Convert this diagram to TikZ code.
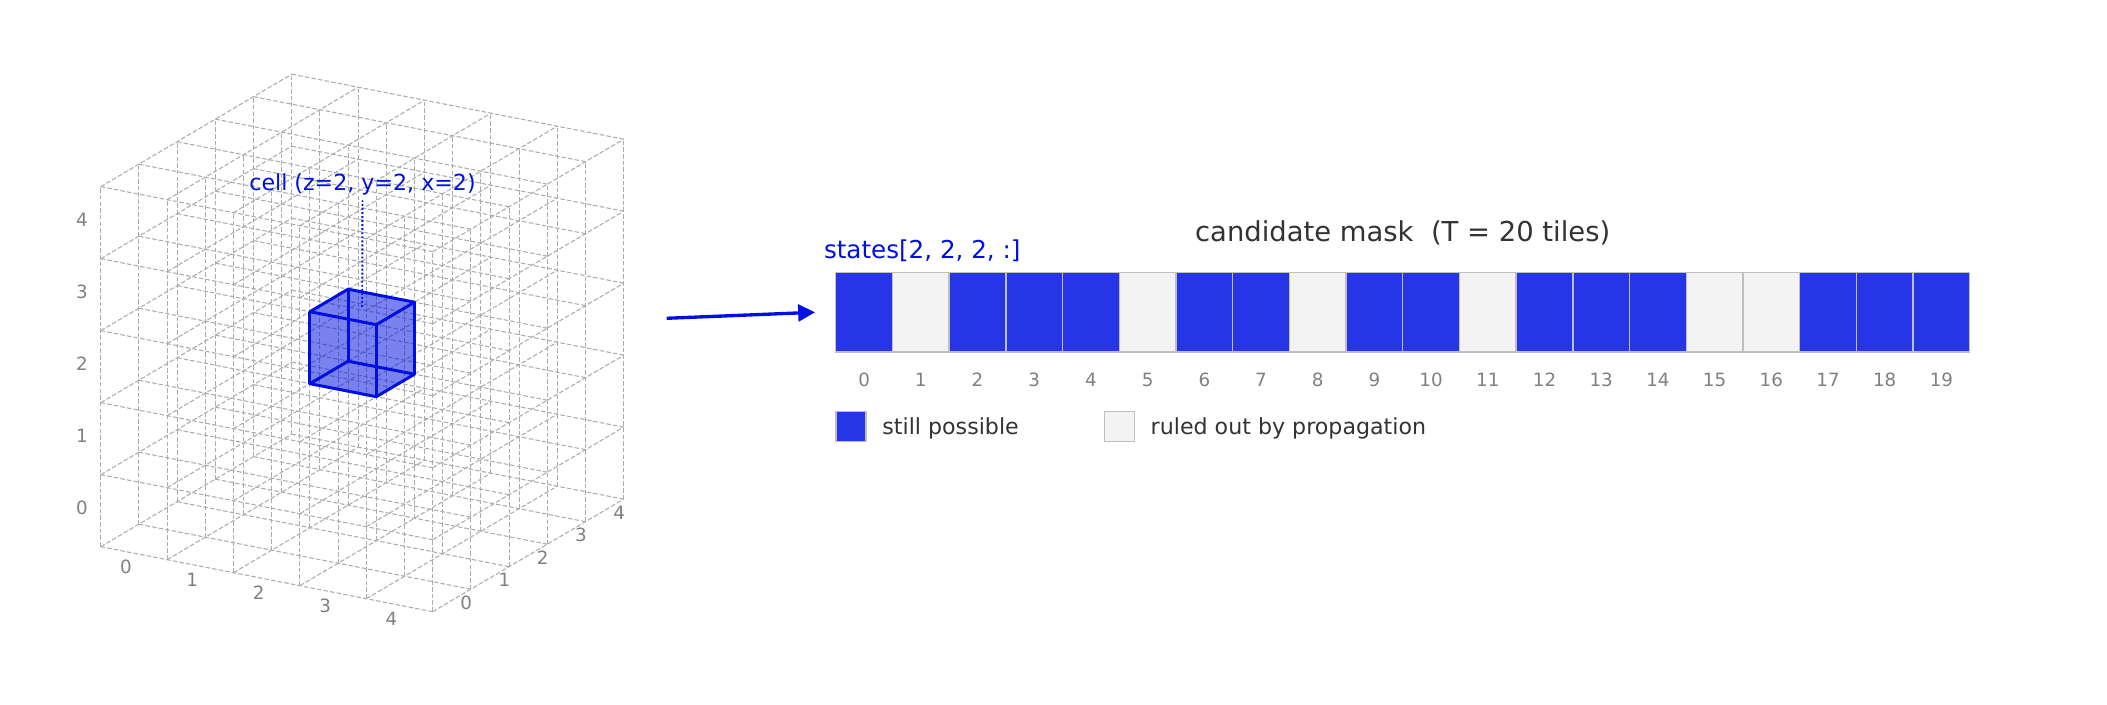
\documentclass[tikz,border=0pt]{standalone}
\usepackage{fontspec}
\setmainfont{DejaVu Sans}
\usetikzlibrary{arrows.meta}
\definecolor{maskBlue}{RGB}{0,16,224}
\definecolor{barBlue}{RGB}{38,54,230}
\definecolor{offGray}{RGB}{243,243,243}
\definecolor{edgeGray}{RGB}{191,191,191}
\definecolor{gridGray}{RGB}{172,172,172}
\definecolor{tickGray}{RGB}{128,128,128}
\definecolor{darkText}{RGB}{51,51,51}

\begin{document}
\begin{tikzpicture}
	\tikzstyle{gridStyle}=[draw=gridGray, line width=0.3pt, dash pattern=on 1.3pt off 0.6pt]
	\tikzstyle{cubeStyle}=[draw=maskBlue, line width=0.85pt, line join=round]
	\tikzstyle{tickStyle}=[text=tickGray, inner sep=0pt, font=\fontsize{5.2pt}{6pt}\selectfont]
	\tikzstyle{possibleStyle}=[shape=rectangle, minimum width=0.567cm, minimum height=0.793cm, inner sep=0pt, fill=barBlue, draw=edgeGray, line width=0.4pt]
	\tikzstyle{ruledStyle}=[shape=rectangle, minimum width=0.567cm, minimum height=0.793cm, inner sep=0pt, fill=offGray, draw=edgeGray, line width=0.4pt]
	\tikzstyle{blueTextStyle}=[text=maskBlue, inner sep=0pt]
	\tikzstyle{legendStyle}=[text=darkText, inner sep=0pt, font=\fontsize{6.3pt}{7.5pt}\selectfont]
	\useasboundingbox (0,0) rectangle (21.07,7.05);
	% the 5 x 5 x 5 grid
	\begin{scope}[shift={(1.007,1.583)}, x={(0.664cm,-0.130cm)}, y={(0.382cm,0.225cm)}, z={(0cm,0.720cm)}]
		\foreach \a in {0,...,5} {
			\foreach \b in {0,...,5} {
				\draw[gridStyle] (0,\a,\b) -- (5,\a,\b);
				\draw[gridStyle] (\a,0,\b) -- (\a,5,\b);
				\draw[gridStyle] (\a,\b,0) -- (\a,\b,5);
			}
		}
		\foreach \k in {0,...,4} {
			\node[tickStyle, xshift=-0.187cm, yshift=0.027cm] (zl\k) at (0,0,\k+0.5) {\k};
			\node[tickStyle, xshift=-0.080cm, yshift=-0.135cm] (xl\k) at (\k+0.5,0,0) {\k};
			\node[tickStyle, xshift=0.145cm, yshift=-0.020cm] (yl\k) at (5,\k+0.5,0) {\k};
		}
		% cell (2,2,2)
		\fill[maskBlue, opacity=0.52] (2,2,2) -- (3,2,2) -- (3,3,2) -- (3,3,3) -- (2,3,3) -- (2,2,3) -- cycle;
		\draw[cubeStyle] (2,2,2) -- (3,2,2) -- (3,3,2) -- (2,3,2) -- cycle;
		\draw[cubeStyle] (2,2,3) -- (3,2,3) -- (3,3,3) -- (2,3,3) -- cycle;
		\draw[cubeStyle] (2,2,2) -- (2,2,3) (3,2,2) -- (3,2,3) (3,3,2) -- (3,3,3) (2,3,2) -- (2,3,3);
		\coordinate (celltop) at (2.5,2.5,3);
	\end{scope}
	\node[blueTextStyle, anchor=base, font=\fontsize{6.3pt}{7.5pt}\selectfont] (celllabel) at (3.625,5.140) {cell (z=2, y=2, x=2)};
	\draw[draw=maskBlue, line width=0.55pt, dash pattern=on 0.55pt off 0.6pt, shorten >=0.4mm] (celltop) -- (celllabel.south);
	% mask of T = 20 tiles
	\node[text=darkText, inner sep=0pt, anchor=base, font=\fontsize{7.8pt}{9pt}\selectfont] (title) at (14.027,4.633) {candidate mask\ \ (T = 20 tiles)};
	\node[blueTextStyle, anchor=base west, font=\fontsize{7pt}{8.4pt}\selectfont] (stateslabel) at (8.233,4.467) {states[2, 2, 2, :]};
	\node[possibleStyle] (b0) at (8.641,3.927) {};
	\node[ruledStyle] (b1) at (9.208,3.927) {};
	\node[possibleStyle] (b2) at (9.775,3.927) {};
	\node[possibleStyle] (b3) at (10.342,3.927) {};
	\node[possibleStyle] (b4) at (10.909,3.927) {};
	\node[ruledStyle] (b5) at (11.476,3.927) {};
	\node[possibleStyle] (b6) at (12.043,3.927) {};
	\node[possibleStyle] (b7) at (12.610,3.927) {};
	\node[ruledStyle] (b8) at (13.177,3.927) {};
	\node[possibleStyle] (b9) at (13.744,3.927) {};
	\node[possibleStyle] (b10) at (14.311,3.927) {};
	\node[ruledStyle] (b11) at (14.878,3.927) {};
	\node[possibleStyle] (b12) at (15.445,3.927) {};
	\node[possibleStyle] (b13) at (16.012,3.927) {};
	\node[possibleStyle] (b14) at (16.579,3.927) {};
	\node[ruledStyle] (b15) at (17.146,3.927) {};
	\node[ruledStyle] (b16) at (17.713,3.927) {};
	\node[possibleStyle] (b17) at (18.280,3.927) {};
	\node[possibleStyle] (b18) at (18.847,3.927) {};
	\node[possibleStyle] (b19) at (19.414,3.927) {};
	\foreach \i in {0,...,19}
		\node[tickStyle] (t\i) at (8.641+0.567*\i,3.250) {\i};
	% arrow from the grid to the mask
	\coordinate (arrowtail) at (6.667,3.867);
	\draw[draw=maskBlue, line width=0.95pt, -{Triangle[length=4.8pt, width=4.8pt]}] (arrowtail) -- ([xshift=-0.2cm]b0.west);
	% legend
	\node[possibleStyle, minimum width=0.3cm, minimum height=0.3cm] (legpossible) at (8.509,2.783) {};
	\node[legendStyle, anchor=base west] (legpossibletext) at (8.817,2.707) {still possible};
	\node[ruledStyle, minimum width=0.3cm, minimum height=0.3cm] (legruled) at (11.193,2.783) {};
	\node[legendStyle, anchor=base west] (legruledtext) at (11.500,2.707) {ruled out by propagation};
\end{tikzpicture}
\end{document}
